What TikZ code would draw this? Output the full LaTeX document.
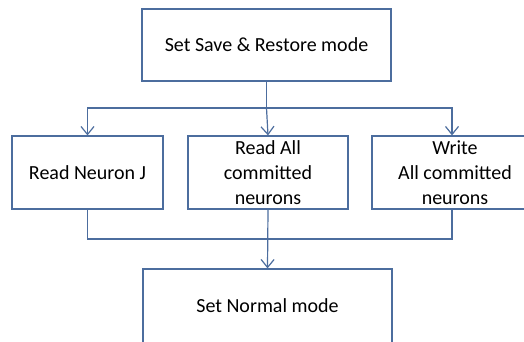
\documentclass[tikz,border=0pt]{standalone}
\usepackage{fontspec}
\setmainfont{Carlito}
\usetikzlibrary{arrows.meta}
\definecolor{linec}{RGB}{76,109,158}
\tikzset{
  boxst/.style={draw=linec, line width=1.2pt, rectangle, inner sep=0pt, align=center,
    font=\fontsize{20}{25}\selectfont, text=black},
  conn/.style={draw=linec, line width=1.2pt},
  arr/.style={conn, -{Straight Barb[length=8pt,width=13pt,line width=1.2pt]}}
}
\begin{document}
\begin{tikzpicture}[x=1pt,y=-1pt]
\useasboundingbox (0,0) rectangle (524,341);
\node[boxst, minimum width=249pt, minimum height=72pt] (top) at (266.5,45) {Set Save \& Restore mode};
\node[boxst, minimum width=151pt, minimum height=73pt] (left) at (87.5,172.5) {Read Neuron J};
\node[boxst, minimum width=160pt, minimum height=73pt] (mid) at (268,172.5) {Read All\\committed\\neurons};
\node[boxst, minimum width=166pt, minimum height=73pt] (right) at (455,172.5) {Write\\All committed\\neurons};
\node[boxst, minimum width=249pt, minimum height=74pt] (bot) at (267.5,306) {Set Normal mode};
\coordinate (j1) at (266.5,108);
\coordinate (j2) at (268,239);
\draw[conn] (top.south) -- (j1);
\draw[arr] (j1) -| (left.north);
\draw[arr] (j1) -| ([xshift=-3pt]right.north);
\draw[arr] (j1) -- (mid.north);
\draw[conn] (left.south) |- (j2);
\draw[conn] ([xshift=-3pt]right.south) |- (j2);
\draw[arr] (mid.south) -- (bot.north);
\end{tikzpicture}
\end{document}
